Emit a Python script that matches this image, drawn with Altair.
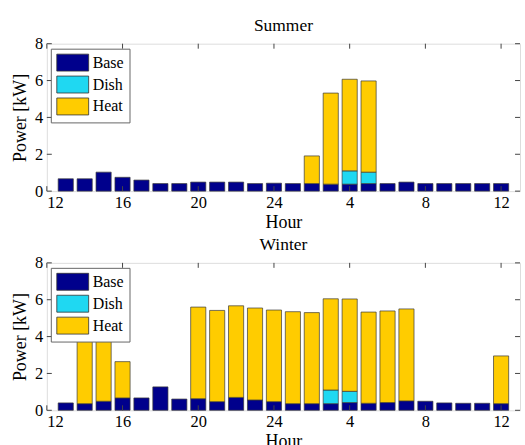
import altair as alt
import pandas as pd

hours = list(range(13, 37))
components = ["Base", "Dish", "Heat"]
colors = ["#00008C", "#1FD8F2", "#FFCC00"]

summer_base = [0.67, 0.67, 1.03, 0.75, 0.60, 0.41, 0.41, 0.49, 0.49, 0.49, 0.41, 0.43,
               0.41, 0.41, 0.38, 0.38, 0.41, 0.41, 0.49, 0.41, 0.41, 0.41, 0.41, 0.41]
summer_dish = [0, 0, 0, 0, 0, 0, 0, 0, 0, 0, 0, 0,
               0, 0, 0, 0.72, 0.62, 0, 0, 0, 0, 0, 0, 0]
summer_heat = [0, 0, 0, 0, 0, 0, 0, 0, 0, 0, 0, 0,
               0, 1.50, 4.94, 4.97, 4.95, 0, 0, 0, 0, 0, 0, 0]

winter_base = [0.40, 0.36, 0.49, 0.67, 0.67, 1.27, 0.61, 0.63, 0.47, 0.70, 0.56, 0.47,
               0.36, 0.36, 0.36, 0.42, 0.38, 0.42, 0.51, 0.49, 0.40, 0.38, 0.38, 0.36]
winter_dish = [0, 0, 0, 0, 0, 0, 0, 0, 0, 0, 0, 0,
               0, 0, 0.74, 0.61, 0, 0, 0, 0, 0, 0, 0, 0]
winter_heat = [0, 5.00, 4.90, 1.97, 0, 0, 0, 4.97, 4.95, 4.97, 4.99, 4.97,
               4.99, 4.94, 4.95, 5.01, 4.95, 4.97, 4.99, 0, 0, 0, 0, 2.59]

x_ticks = [12, 16, 20, 24, 28, 32, 36]
y_ticks = [0, 2, 4, 6, 8]

W, H = 475, 148
FONT = "Liberation Serif"
LBL = 16.5
TTL = 18


def panel(title, base, dish, heat):
    rows = []
    for h, b, d, t in zip(hours, base, dish, heat):
        rows.append({"hour": h, "comp": "Base", "val": b, "ord": 0})
        rows.append({"hour": h, "comp": "Dish", "val": d, "ord": 1})
        rows.append({"hour": h, "comp": "Heat", "val": t, "ord": 2})
    df = pd.DataFrame(rows)
    df = df[df["val"] > 0]
    xs = alt.Scale(domain=[12, 37], nice=False, zero=False)
    ys = alt.Scale(domain=[0, 8], nice=False)
    xaxis = alt.Axis(
        values=x_ticks, labelExpr="datum.value > 24 ? datum.value - 24 : datum.value",
        title="Hour", tickSize=0, grid=False, domain=False, labelPadding=3,
        titlePadding=3, labelFont=FONT, titleFont=FONT, labelFontSize=LBL,
        titleFontSize=TTL, titleFontWeight="normal", labelColor="#000", titleColor="#000")
    yaxis = alt.Axis(
        values=y_ticks, title="Power [kW]", tickSize=0, grid=False, domain=False,
        labelPadding=4, titlePadding=5, labelFont=FONT, titleFont=FONT,
        labelFontSize=LBL, titleFontSize=TTL, titleFontWeight="normal",
        labelColor="#000", titleColor="#000")

    bars = alt.Chart(df).transform_stack(
        stack="val", as_=["y0", "y1"], groupby=["hour"], sort=[alt.SortField("ord")]
    ).transform_calculate(
        x0="datum.hour - 0.4", x1="datum.hour + 0.4"
    ).mark_rect(stroke="#3a3a3a", strokeWidth=0.7).encode(
        x=alt.X("x0:Q", scale=xs, axis=xaxis),
        x2="x1:Q",
        y=alt.Y("y0:Q", scale=ys, axis=yaxis),
        y2="y1:Q",
        color=alt.Color("comp:N", scale=alt.Scale(domain=components, range=colors),
                        legend=alt.Legend(
                            title=None, orient="none", legendX=4, legendY=5,
                            symbolType="M-1.88,-1H1.88V1H-1.88Z", symbolSize=289,
                            symbolStrokeColor="#333", symbolStrokeWidth=0.8,
                            symbolOffset=8, labelOffset=11,
                            labelFont=FONT, labelFontSize=16, labelColor="#000",
                            rowPadding=0, padding=5,
                            strokeColor="#666", fillColor="white")),
    )

    tdx = pd.DataFrame({"t": x_ticks})
    tdy = pd.DataFrame({"t": y_ticks})
    tick_bottom = alt.Chart(tdx).mark_rule(color="#444").encode(
        x=alt.X("t:Q", scale=xs, axis=xaxis), y=alt.value(H), y2=alt.value(H - 5))
    tick_top = alt.Chart(tdx).mark_rule(color="#444").encode(
        x=alt.X("t:Q", scale=xs, axis=xaxis), y=alt.value(0), y2=alt.value(5))
    tick_left = alt.Chart(tdy).mark_rule(color="#444").encode(
        y=alt.Y("t:Q", scale=ys, axis=yaxis), x=alt.value(0), x2=alt.value(5))
    tick_right = alt.Chart(tdy).mark_rule(color="#444").encode(
        y=alt.Y("t:Q", scale=ys, axis=yaxis), x=alt.value(W - 5), x2=alt.value(W))

    return alt.layer(bars, tick_bottom, tick_top, tick_left, tick_right).properties(
        width=W, height=H,
        title=alt.TitleParams(title, font=FONT, fontSize=17.5, fontWeight="normal",
                              color="#000", offset=1))


chart = alt.vconcat(
    panel("Summer", summer_base, summer_dish, summer_heat),
    panel("Winter", winter_base, winter_dish, winter_heat),
    spacing=72, bounds="flush",
).resolve_legend(color="independent").properties(
    autosize=alt.AutoSizeParams(type="pad"),
    padding={"left": 11, "top": 16, "right": 4, "bottom": 0},
).configure_view(stroke="#444", strokeWidth=1).configure(background="white")

chart.save("out.html", embed_options={"renderer": "svg", "actions": False})
